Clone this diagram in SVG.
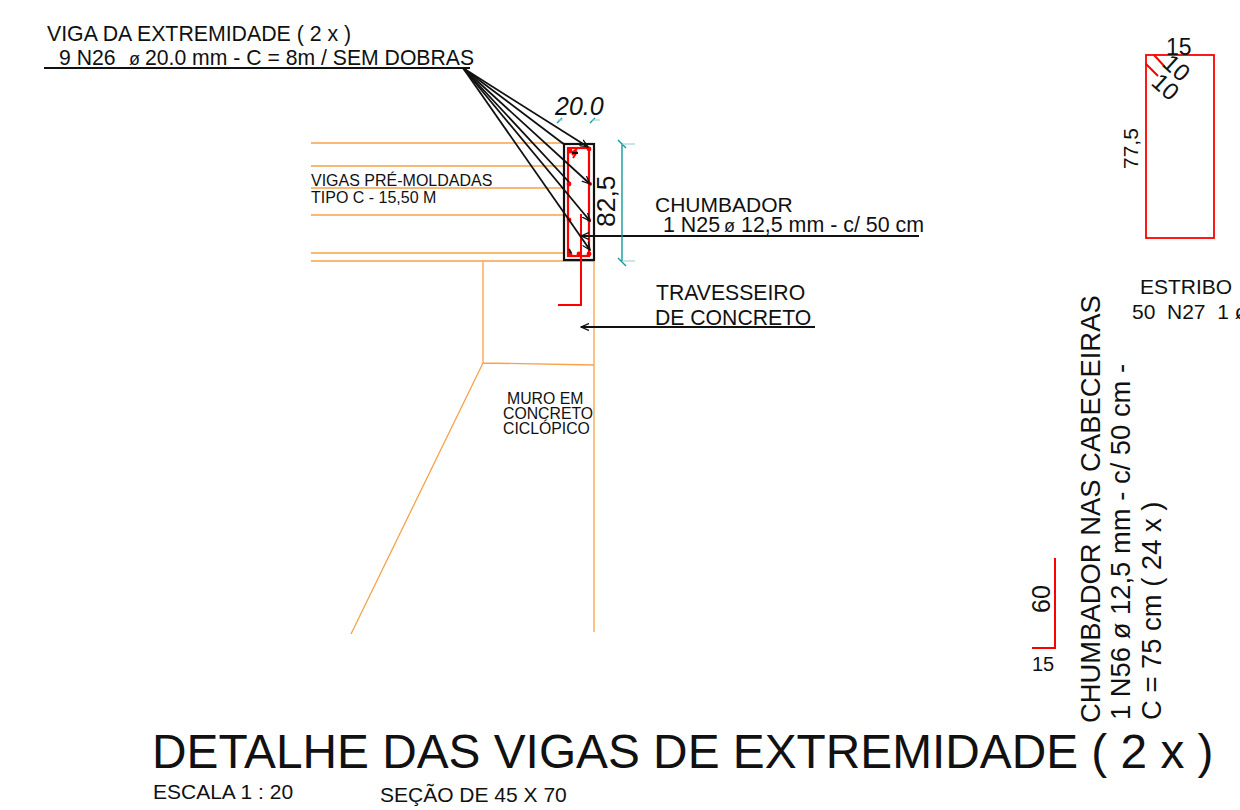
<svg xmlns="http://www.w3.org/2000/svg" width="1240" height="810" viewBox="0 0 1240 810">
<style>
text{font-family:"Liberation Sans",Arial,sans-serif;fill:#111;white-space:pre}
.o{stroke:#f7a24a;stroke-width:1.3;fill:none}
.r{stroke:#f00;stroke-width:2;fill:none}
.k{stroke:#111;stroke-width:1.8;fill:none}
.t{stroke:#159a9c;stroke-width:1.4;fill:none}
.tl{stroke:#8fd0d0;stroke-width:1.2;fill:none}
</style>
<defs>
<marker id="ah" markerWidth="9" markerHeight="8" refX="8" refY="4" orient="auto" markerUnits="userSpaceOnUse"><path d="M0 0.500L8 4L0 7.500M8 4H1" fill="none" stroke="#111" stroke-width="1.3"/></marker>
</defs>
<rect width="1240" height="810" fill="#fff"/>
<g id="structure">
<path class="o" d="M311 143H564M311 166H564M311 188H564M311 215H564M311 253H564M311 261H594M594 261V632M483 261V363L594 365M483 363L351 634"/>
</g>
<g id="beam">
<rect x="564" y="144" width="30" height="116" fill="none" stroke="#111" stroke-width="2.2"/>
<rect x="568" y="148" width="21" height="108" fill="none" stroke="#f00" stroke-width="2.2"/>
<g fill="#f00"><circle cx="570" cy="151" r="2.4"/><circle cx="589" cy="149" r="2.4"/><circle cx="569" cy="184" r="2.4"/><circle cx="569" cy="220" r="2.4"/><circle cx="590" cy="184" r="2"/><circle cx="589" cy="220" r="2"/><circle cx="570" cy="254" r="2.4"/><circle cx="579" cy="254" r="2.4"/><circle cx="589" cy="254" r="2.4"/></g>
<path class="r" stroke-width="1.4" d="M571 153l6-4M572 155l5-4M573 158l4-6"/>
<path class="r" d="M581 214V305H558"/>
</g>
<g id="connectors">
<path class="k" d="M44 68H470"/>
<g marker-end="url(#ah)"><path class="k" stroke-width="1.5" d="M463 68L588 147"/><path class="k" stroke-width="1.5" d="M463 68L590 184"/><path class="k" stroke-width="1.5" d="M463 68L590 221"/><path class="k" stroke-width="1.5" d="M463 68L590 250"/></g>
<path class="k" stroke-width="1.5" d="M463 68L565 145M463 68L569 182"/>
<path class="k" stroke-width="1.4" d="M572 153H578M569 249l2 4"/>
<path class="k" d="M919 236H581" marker-end="url(#ah)"/>
<path class="k" d="M815 327H581" marker-end="url(#ah)"/>
</g>
<g id="dimensions">
<path class="t" d="M622 143V261M618 140l8 8M618 258l8 8M557 123l5-5M590 123l5-5"/>
<path class="tl" d="M622 144H635M622 261H635M558 120H563M592 120H600"/>
</g>
<g id="labels">
<text x="47" y="41" font-size="21.300">VIGA DA EXTREMIDADE ( 2 x )</text>
<text x="59" y="65" font-size="21.200">9 N26</text>
<text x="129" y="65" font-size="18">ø</text>
<text x="145" y="65" font-size="21.200">20.0 mm - C = 8m / SEM DOBRAS</text>
<text x="555" y="115" font-size="25" font-style="italic">20.0</text>
<text transform="translate(614.500 227) rotate(-90)" font-size="26.500">82,5</text>
<text x="311" y="186" font-size="16">VIGAS PRÉ-MOLDADAS</text>
<text x="311" y="203" font-size="16">TIPO C - 15,50 M</text>
<text x="655" y="212" font-size="21">CHUMBADOR</text>
<text x="663" y="232" font-size="21.400">1 N25</text>
<text x="724" y="232" font-size="18">ø</text>
<text x="741" y="232" font-size="21.400">12,5 mm - c/ 50 cm</text>
<text x="656" y="300" font-size="21.200">TRAVESSEIRO</text>
<text x="655" y="325" font-size="21.200">DE CONCRETO</text>
<text x="507" y="404" font-size="15.800">MURO EM</text>
<text x="503" y="419" font-size="15.800">CONCRETO</text>
<text x="503" y="434" font-size="15.800">CICLÓPICO</text>
<text x="152" y="768" font-size="47.800">DETALHE DAS VIGAS DE EXTREMIDADE ( 2 x )</text>
<text x="153" y="799" font-size="21">ESCALA 1 : 20</text>
<text x="380" y="802" font-size="21">SEÇÃO DE 45 X 70</text>
</g>
<g id="stirrup">
<rect x="1146" y="55" width="68" height="183" fill="none" stroke="#f00" stroke-width="1.8"/>
<path class="r" stroke-width="1.6" d="M1154 55l11 12M1146 64l12 12"/>
<text x="1166" y="55" font-size="23">15</text>
<text transform="translate(1161 65) rotate(42)" font-size="24">10</text>
<text transform="translate(1150 84) rotate(42)" font-size="24">10</text>
<text transform="translate(1138 169) rotate(-90)" font-size="21">77,5</text>
<text x="1140" y="294" font-size="21">ESTRIBO</text>
<text x="1132" y="319" font-size="21">50  N27  1 ø</text>
</g>
<g id="anchor">
<path class="r" d="M1055 558V648H1032"/>
<text transform="translate(1050 613) rotate(-90)" font-size="25">60</text>
<text x="1032" y="671" font-size="20">15</text>
<text transform="translate(1100 723) rotate(-90)" font-size="27.400">CHUMBADOR NAS CABECEIRAS</text>
<text transform="translate(1130 720) rotate(-90)" font-size="27.400">1 N56 ø 12,5 mm - c/ 50 cm -</text>
<text transform="translate(1161 720) rotate(-90)" font-size="27.400">C = 75 cm ( 24 x )</text>
</g>
</svg>
